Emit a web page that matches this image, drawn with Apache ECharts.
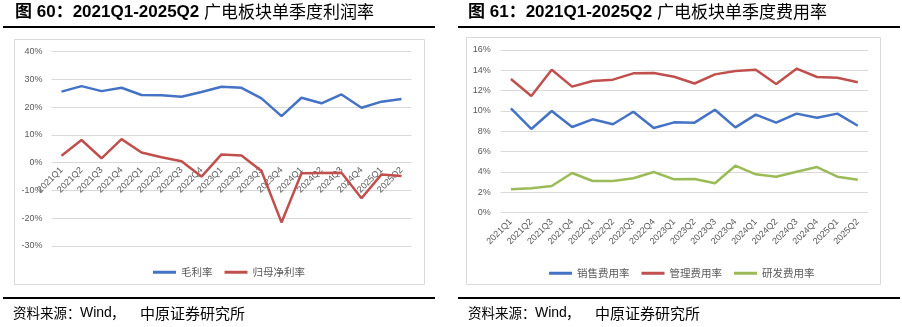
<!DOCTYPE html>
<html>
<head>
<meta charset="utf-8">
<script src="https://cdn.jsdelivr.net/npm/echarts@6/dist/echarts.min.js"></script>
<style>
html,body{margin:0;padding:0;background:#fff;}
#c{width:902px;height:327px;}
</style>
</head>
<body>
<div id="c"></div>
<script>
const categories = ['2021Q1','2021Q2','2021Q3','2021Q4','2022Q1','2022Q2','2022Q3','2022Q4','2023Q1','2023Q2','2023Q3','2023Q4','2024Q1','2024Q2','2024Q3','2024Q4','2025Q1','2025Q2'];
// Left chart: profit margins (%)
const grossMargin = [25.6,27.6,25.8,27.0,24.4,24.3,23.8,25.5,27.4,27.0,23.2,16.8,23.4,21.4,24.6,19.8,22.0,23.0];
const netMargin = [2.5,8.2,1.6,8.5,3.7,2.0,0.5,-5.0,3.0,2.6,-3.0,-21.5,-3.8,-3.7,-3.6,-12.8,-4.2,-4.8];
// Right chart: expense ratios (%)
const salesRatio = [10.25,8.22,9.99,8.41,9.17,8.68,9.92,8.32,8.87,8.84,10.12,8.38,9.63,8.84,9.73,9.33,9.73,8.54];
const adminRatio = [13.14,11.47,14.06,12.39,12.95,13.08,13.70,13.73,13.37,12.70,13.60,13.93,14.06,12.65,14.16,13.34,13.27,12.82];
const rdRatio = [2.27,2.37,2.60,3.88,3.09,3.09,3.36,3.98,3.26,3.29,2.87,4.60,3.75,3.52,4.01,4.47,3.52,3.22];
const leftTicks = {min:-30, max:40, interval:10};
const rightTicks = {min:0, max:16, interval:2};
const leftTitle = ['图 60：2021Q1-2025Q2 ','广电板块单季度利润率'];
const rightTitle = ['图 61：2021Q1-2025Q2 ','广电板块单季度费用率'];
const leftNames = ['毛利率','归母净利率'];
const rightNames = ['销售费用率','管理费用率','研发费用率'];

const BLUE='#4472C4', RED='#C0504D', GREEN='#9BBB59';
const GRID='#D9D9D9', LBL='#595959';
const FONT='"Liberation Sans", Arial, "Noto Sans CJK SC", sans-serif';
const CJK='"Noto Sans CJK SC", sans-serif';

const chart = echarts.init(document.getElementById('c'), null, {renderer:'canvas'});

// left grid geometry
const LG = {left:51.5, top:51.7, width:360, height:194.3};
// distance from the grid bottom up to the zero line of the left value axis
const zeroOffset = LG.height * (0 - leftTicks.min) / (leftTicks.max - leftTicks.min);

function yAxis(grid, t, margin){
  return {type:'value', gridIndex:grid, min:t.min, max:t.max, interval:t.interval,
    axisLabel:{formatter:'{value}%', color:LBL, fontSize:9, fontFamily:FONT, margin:margin},
    axisLine:{show:false}, axisTick:{show:false},
    splitLine:{lineStyle:{color:GRID, width:1}}};
}
function xAxis(grid, margin, offset){
  return {type:'category', gridIndex:grid, data:categories, boundaryGap:true, position:'bottom', offset:offset,
    axisLine:{show:false, onZero:false}, axisTick:{show:false},
    axisLabel:{rotate:45, interval:0, color:LBL, fontSize:9, fontFamily:FONT, margin:margin}};
}
function line(name, data, color, xi, yi){
  return {type:'line', name:name, data:data, xAxisIndex:xi, yAxisIndex:yi,
    showSymbol:false, symbol:'none', lineStyle:{color:color, width:2.5}, itemStyle:{color:color},
    animation:false};
}
function titleText(x, parts){
  return {type:'text', x:x, y:12, style:{
    text:'{a|'+parts[0]+'}{b|'+parts[1]+'}', verticalAlign:'middle', align:'left',
    rich:{a:{fontSize:17, fontWeight:'bold', fontFamily:FONT, fill:'#000'},
          b:{fontSize:17, fontWeight:'normal', fontFamily:CJK, fill:'#000'}}}};
}
function footer(dx){
  return [
    {type:'text', x:13+dx, y:313, style:{text:'资料来源：', fontSize:13.5, fontFamily:CJK, fill:'#000', verticalAlign:'middle'}},
    {type:'text', x:80+dx, y:313, style:{text:'Wind', fontSize:14, fontFamily:FONT, fill:'#000', verticalAlign:'middle'}},
    {type:'text', x:111+dx, y:313, style:{text:'，', fontSize:14, fontFamily:CJK, fill:'#000', verticalAlign:'middle'}},
    {type:'text', x:140+dx, y:313, style:{text:'中原证券研究所', fontSize:15, fontFamily:CJK, fill:'#000', verticalAlign:'middle'}}
  ];
}

const option = {
  backgroundColor:'#fff',
  animation:false,
  grid:[
    LG,
    {left:500.7, top:50, width:367.3, height:162.4}
  ],
  xAxis:[xAxis(0,6,-zeroOffset), xAxis(1,8,0)],
  yAxis:[yAxis(0,leftTicks,9), yAxis(1,rightTicks,10)],
  legend:[
    {data:leftNames, left:148, top:262, itemWidth:23, itemHeight:3, itemGap:12, icon:'rect',
     textStyle:{color:LBL, fontSize:10.5, fontFamily:CJK}},
    {data:rightNames, left:544, top:263, itemWidth:23, itemHeight:3, itemGap:12, icon:'rect',
     textStyle:{color:LBL, fontSize:10.5, fontFamily:CJK}}
  ],
  series:[
    line(leftNames[0], grossMargin, BLUE, 0, 0),
    line(leftNames[1], netMargin, RED, 0, 0),
    line(rightNames[0], salesRatio, BLUE, 1, 1),
    line(rightNames[1], adminRatio, RED, 1, 1),
    line(rightNames[2], rdRatio, GREEN, 1, 1)
  ],
  graphic:[
    {type:'rect', shape:{x:14.5, y:39.5, width:410, height:245}, style:{fill:'none', stroke:GRID, lineWidth:1}, z:-10},
    {type:'rect', shape:{x:466.5, y:37.5, width:414, height:247}, style:{fill:'none', stroke:GRID, lineWidth:1}, z:-10},
    titleText(15, leftTitle),
    titleText(468, rightTitle),
    {type:'rect', shape:{x:3, y:26, width:432, height:2}, style:{fill:'#000'}},
    {type:'rect', shape:{x:458, y:26, width:442, height:2}, style:{fill:'#000'}},
    {type:'rect', shape:{x:3, y:297, width:432, height:2}, style:{fill:'#000'}},
    {type:'rect', shape:{x:458, y:297, width:442, height:2}, style:{fill:'#000'}}
  ].concat(footer(0), footer(455))
};
chart.setOption(option);
</script>
</body>
</html>
